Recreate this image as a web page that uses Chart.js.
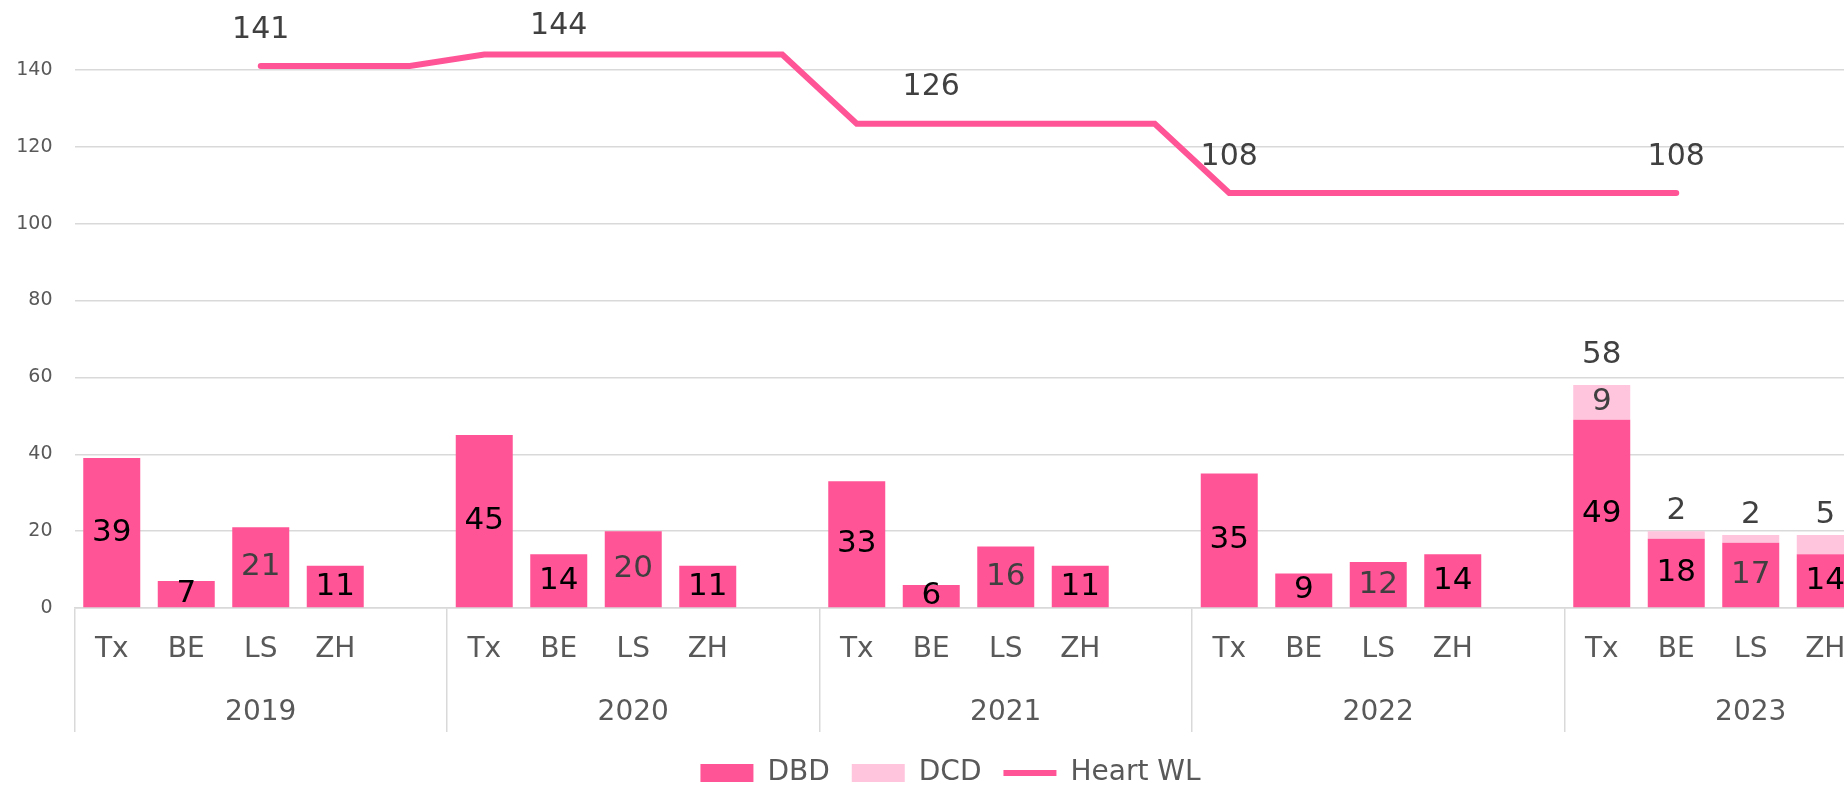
<!DOCTYPE html>
<html>
<head>
<meta charset="utf-8">
<script src="https://cdn.jsdelivr.net/npm/chart.js@4.4.1/dist/chart.umd.min.js"></script>
<style>
    html, body { margin: 0; padding: 0; background: #fff; overflow: hidden; }
    #wrap { position: absolute; left: 0; top: -7px; width: 1937px; height: 804px; }
</style>
</head>
<body>
<div id="wrap"><canvas id="chart"></canvas></div>
<script>
// data
const years = ['2019', '2020', '2021', '2022', '2023'];
const centres = ['Tx', 'BE', 'LS', 'ZH', ''];

const dbd = [39, 7, 21, 11, null,
             45, 14, 20, 11, null,
             33, 6, 16, 11, null,
             35, 9, 12, 14, null,
             49, 18, 17, 14, null];
const dcd = [null, null, null, null, null,
             null, null, null, null, null,
             null, null, null, null, null,
             null, null, null, null, null,
             9, 2, 2, 5, null];
const stackTotal = [null, null, null, null, null,
                    null, null, null, null, null,
                    null, null, null, null, null,
                    null, null, null, null, null,
                    58, null, null, null, null];
const heartWL = [null, null, 141, 141, 141,
                 144, 144, 144, 144, 144,
                 126, 126, 126, 126, 126,
                 108, 108, 108, 108, 108,
                 108, 108, null, null, null];
const heartWLLabelAt = [2, 6, 11, 15, 21];

const yMax = 160;
const yStep = 20;

const PINK = '#FF5597';
const LIGHT_PINK = '#FFC5DD';
const GRID = '#d9d9d9';
const AXIS_TEXT = '#595959';
const LABEL_TEXT = '#404040';
const FONT = "'DejaVu Sans', sans-serif";

const labels = years.flatMap(() => centres);

// value labels like the spreadsheet data labels
const valueLabels = {
    id: 'valueLabels',
    afterLayout(chart) {
        // legend sits a little left of the canvas centre in the original
        chart.legend.left -= 18;
        chart.legend.right -= 18;
    },
    afterDatasetsDraw(chart) {
        const ctx = chart.ctx;
        ctx.save();
        ctx.textAlign = 'center';
        ctx.textBaseline = 'middle';

        ctx.font = '31px ' + FONT;
        chart.getDatasetMeta(0).data.forEach((bar, i) => {
            if (dbd[i] == null) return;
            const p = bar.getProps(['x', 'y', 'base'], true);
            ctx.fillStyle = labels[i] === 'LS' ? LABEL_TEXT : '#000';
            ctx.fillText(dbd[i], p.x, (p.y + p.base) / 2);
        });

        chart.getDatasetMeta(1).data.forEach((bar, i) => {
            if (dcd[i] == null) return;
            const p = bar.getProps(['x', 'y', 'base'], true);
            ctx.fillStyle = LABEL_TEXT;
            if (p.base - p.y > 30) ctx.fillText(dcd[i], p.x, (p.y + p.base) / 2);
            else ctx.fillText(dcd[i], p.x, p.y - 20);
            if (stackTotal[i] != null) ctx.fillText(stackTotal[i], p.x, p.y - 30);
        });

        ctx.font = '30px ' + FONT;
        const line = chart.getDatasetMeta(2).data;
        ctx.fillStyle = LABEL_TEXT;
        heartWLLabelAt.forEach(i => {
            const pt = line[i];
            ctx.fillText(heartWL[i], pt.x, Math.max(pt.y - 36, 33));
        });
        ctx.restore();
    }
};

new Chart(document.getElementById('chart'), {
    type: 'bar',
    data: {
        labels: labels,
        datasets: [
            {
                label: 'DBD',
                data: dbd,
                backgroundColor: PINK,
                borderWidth: 0,
                pointStyle: 'rect',
                barPercentage: 0.765,
                categoryPercentage: 1,
                order: 1
            },
            {
                label: 'DCD',
                data: dcd,
                backgroundColor: LIGHT_PINK,
                borderWidth: 0,
                pointStyle: 'rect',
                barPercentage: 0.765,
                categoryPercentage: 1,
                order: 1
            },
            {
                type: 'line',
                label: 'Heart WL',
                data: heartWL,
                borderColor: PINK,
                backgroundColor: PINK,
                borderWidth: 6,
                borderCapStyle: 'round',
                pointRadius: 0,
                pointStyle: 'line',
                stack: 'wl',
                order: 0
            }
        ]
    },
    options: {
        responsive: true,
        maintainAspectRatio: false,
        animation: false,
        devicePixelRatio: 1,
        layout: { padding: 0 },
        plugins: {
            legend: {
                position: 'bottom',
                labels: {
                    usePointStyle: true,
                    pointStyleWidth: 53,
                    boxHeight: 18,
                    padding: 22,
                    color: AXIS_TEXT,
                    font: { family: FONT, size: 28 },
                    sort: (a, b) => a.datasetIndex - b.datasetIndex
                }
            },
            tooltip: { enabled: false }
        },
        scales: {
            x: {
                stacked: true,
                position: 'bottom',
                weight: 0,
                afterFit: s => { s.height = 72; },
                grid: {
                    offset: true,
                    drawOnChartArea: false,
                    tickLength: 72,
                    lineWidth: 1.5,
                    color: c => (c.index % 5 === 0 ? GRID : 'transparent')
                },
                border: { display: true, color: GRID, width: 1.5 },
                ticks: {
                    autoSkip: false,
                    maxRotation: 0,
                    padding: -47,
                    color: AXIS_TEXT,
                    font: { family: FONT, size: 28 }
                }
            },
            x2: {
                type: 'category',
                labels: years,
                position: 'bottom',
                weight: 1,
                offset: true,
                afterFit: s => { s.height = 57; },
                grid: {
                    offset: true,
                    drawOnChartArea: false,
                    tickLength: 52,
                    lineWidth: 1.5,
                    color: GRID
                },
                border: { display: false },
                ticks: {
                    autoSkip: false,
                    maxRotation: 0,
                    padding: -36,
                    color: AXIS_TEXT,
                    font: { family: FONT, size: 28 }
                }
            },
            y: {
                stacked: true,
                min: 0,
                max: yMax,
                afterFit: s => {
                    s.width = 74.5;
                    s.paddingTop = 0;
                    s.paddingBottom = 0;
                },
                grid: {
                    drawTicks: false,
                    lineWidth: 1.5,
                    color: c => (c.tick && c.tick.value === yMax ? 'transparent' : GRID)
                },
                border: { display: false },
                ticks: {
                    stepSize: yStep,
                    padding: 22,
                    color: AXIS_TEXT,
                    font: { family: FONT, size: 19 },
                    callback: v => (v === yMax ? '' : v)
                }
            }
        }
    },
    plugins: [valueLabels]
});
</script>
</body>
</html>
